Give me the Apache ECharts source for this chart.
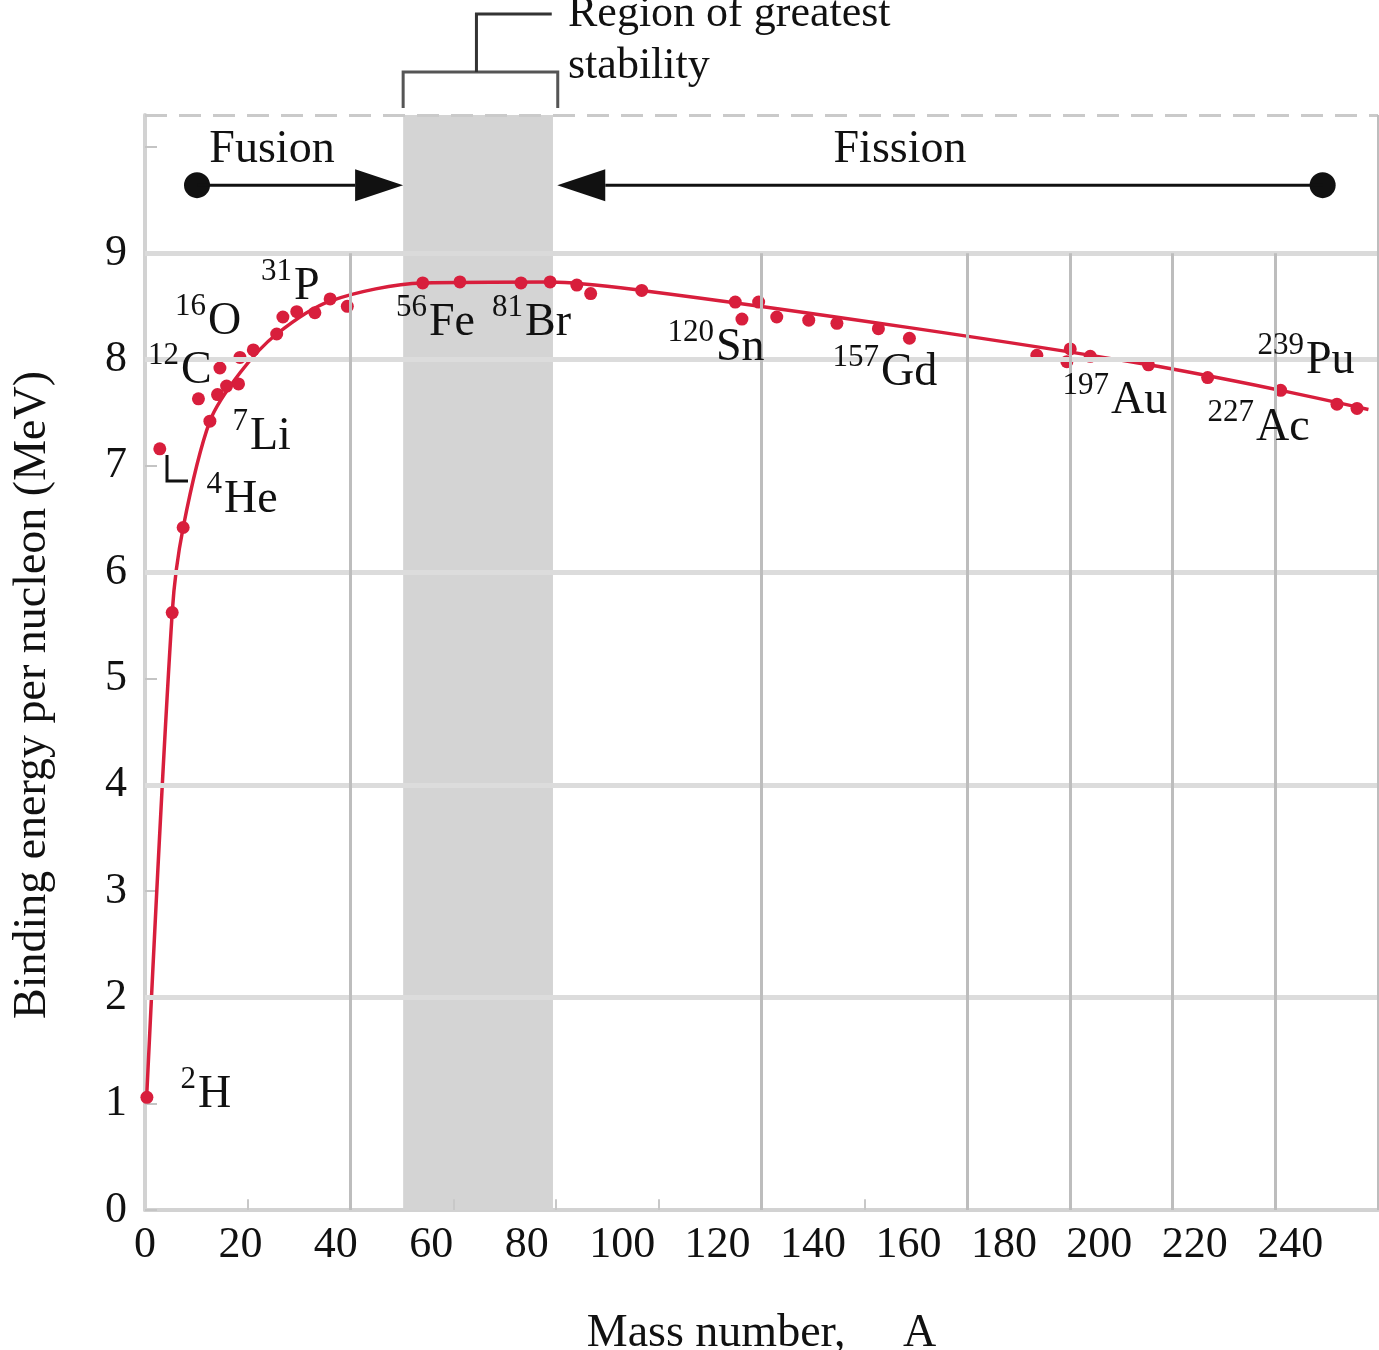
<!DOCTYPE html>
<html><head><meta charset="utf-8">
<script src="https://cdn.jsdelivr.net/npm/echarts@6/dist/echarts.min.js"></script>
<style>html,body{margin:0;padding:0;background:#fff;overflow:hidden}#c{width:1379px;height:1350px}</style>
</head><body><div id="c"></div>
<script>
// ---------- data ----------
const massNumber = [0.4,3.1,5.7,8.0,11.2,13.6,15.2,15.7,17.1,19.6,19.9,22.7,27.6,28.9,31.8,35.6,38.8,42.4,58.2,66.0,78.8,84.9,90.5,93.4,104.1,123.7,125.1,128.6,132.4,139.1,145.0,153.7,160.2,186.9,193.2,193.9,198.1,210.3,222.7,238.0,249.8,254.0];
const bindingEnergy = [1.06,7.16,5.62,6.42,7.63,7.42,7.67,7.92,7.75,7.77,8.02,8.09,8.24,8.40,8.45,8.44,8.57,8.50,8.72,8.73,8.72,8.73,8.70,8.62,8.65,8.54,8.38,8.54,8.40,8.37,8.34,8.29,8.20,8.04,7.98,8.10,8.03,7.95,7.83,7.71,7.58,7.54];
const curveA  = [0.4,5.7,8.0,13.6,20.0,27.6,38.8,58.2,84.9,104.1,160.2,210.3,238.0,256.4];
const curveBE = [1.11,5.62,6.42,7.42,7.88,8.24,8.55,8.72,8.73,8.65,8.30,7.95,7.71,7.53];
const xTickLabels = [0,20,40,60,80,100,120,140,160,180,200,220,240];
const yTickLabels = [0,1,2,3,4,5,6,7,8,9];
const nuclideMass = ['2','4','7','12','16','31','56','81','120','157','197','227','239'];
const nuclideSymbol = ['H','He','Li','C','O','P','Fe','Br','Sn','Gd','Au','Ac','Pu'];
const stableRange = [54.1, 85.5];
const fusionRange = [10.9, 54.1];
const fissionRange = [246.8, 86.4];

// ---------- layout / style ----------
const FONT = "'Liberation Serif','Times New Roman',serif";
const RED = '#d81e3c';
const X_MAX = 258.4, Y_MAX = 10.3;
const labelAnchors = [[197,1095],[223,500],[249,437],[180,371],[207,322],[293,287],[428,323],[524,323],[715,348],[880,373],[1110,401],[1255,428],[1305,361]];
const gridCols = [2,6,8,9,10,11];
const tickCols = [1,3,4,5,7];
const gridRows = [2,4,6,8];

const chart = echarts.init(document.getElementById('c'), null, {renderer:'canvas'});

const scatterData = massNumber.map((a,i)=>[a, bindingEnergy[i]]);
const curveData = curveA.map((a,i)=>[a, curveBE[i]]);

const option = {
  animation:false,
  backgroundColor:'#fff',
  grid:{left:145, right:1, top:115, bottom:140, containLabel:false, outerBoundsMode:'none'},
  xAxis:[{
    type:'value', min:0, max:X_MAX, interval:20,
    axisLine:{show:true, onZero:false, lineStyle:{color:'#d2d2d2', width:4}},
    axisTick:{show:false},
    splitLine:{show:false},
    axisLabel:{
      margin:13, fontFamily:FONT, fontSize:44, color:'#111',
      showMaxLabel:false,
      formatter:v => xTickLabels.indexOf(v) >= 0 ? String(v) : ''
    },
    name:'Mass number,     A', nameLocation:'middle', nameGap:101,
    nameTextStyle:{fontFamily:FONT, fontSize:46, color:'#111'}
  },{
    type:'value', min:0, max:12, show:false, splitLine:{show:false}
  }],
  yAxis:[{
    type:'value', min:0, max:Y_MAX, interval:1,
    axisLine:{show:true, onZero:false, lineStyle:{color:'#d2d2d2', width:4}},
    axisTick:{show:true, inside:true, length:12, lineStyle:{color:'#c4c4c4', width:2}},
    splitLine:{show:false},
    axisLabel:{
      margin:18, fontFamily:FONT, fontSize:44, color:'#111',
      formatter:v => yTickLabels.indexOf(v) >= 0 ? String(v) : ''
    }
  }],
  series:[
    {
      type:'line', data:[], xAxisIndex:0, yAxisIndex:0, silent:true, z:1,
      markArea:{silent:true, itemStyle:{color:'#d4d4d4'},
        data:[[{coord:[stableRange[0],0]},{coord:[stableRange[1],Y_MAX]}]]},
      markLine:{silent:true, symbol:'none', label:{show:false},
        lineStyle:{color:'#dcdcdc', width:5, type:'solid'},
        data: gridRows.map(r=>[{coord:[0,r]},{coord:[X_MAX,r]}]).concat([
          [{coord:[0,9], lineStyle:{color:'#dadada', width:5, type:'solid'}},{coord:[X_MAX,9]}],
          [{coord:[0,Y_MAX], lineStyle:{color:'#cacaca', width:3, type:[22,12]}},{coord:[X_MAX,Y_MAX]}]
        ])}
    },
    {
      type:'line', data:[], xAxisIndex:1, yAxisIndex:0, silent:true, z:2,
      markLine:{silent:true, symbol:'none', label:{show:false},
        lineStyle:{color:'#bdbdbd', width:3, type:'solid'},
        data: gridCols.map(k=>[{coord:[k,0]},{coord:[k,9]}])
          .concat([[{coord:[12,0]},{coord:[12,Y_MAX]}]])
          .concat(tickCols.map(k=>[{coord:[k,0], lineStyle:{color:'#c8c8c8', width:2}},{coord:[k,0.1]}]))
      }
    },
    {
      type:'line', data:curveData, xAxisIndex:0, yAxisIndex:0, z:3,
      smooth:0.3, showSymbol:false, symbol:'none',
      lineStyle:{color:RED, width:3.5}
    },
    {
      type:'scatter', data:scatterData, xAxisIndex:0, yAxisIndex:0, z:4,
      symbol:'circle', symbolSize:13, itemStyle:{color:RED, opacity:1}
    }
  ]
};
chart.setOption(option);

// ---------- annotations ----------
const P = (a,b) => chart.convertToPixel({xAxisIndex:0, yAxisIndex:0}, [a,b]);
const g = [];
const txt = (x,y,s,size,align) => g.push({type:'text', x, y, z:20,
  style:{text:s, font:`${size}px ${FONT}`, fill:'#111', textAlign:align||'left', textVerticalAlign:'middle'}});

nuclideSymbol.forEach((sym,i)=>{
  const [x,y] = labelAnchors[i];
  txt(x-1, y-15, nuclideMass[i], 31, 'right');
  txt(x+1, y, sym, 46, 'left');
});
g.push({type:'polyline', z:20, shape:{points:[[167,455],[167,481],[188,481]]}, style:{stroke:'#111', lineWidth:3, fill:null}});

const arrowY = 9.64;
function arrow(fromA, toA){
  const [x0,y0] = P(fromA, arrowY), [x1] = P(toA, arrowY);
  const dir = Math.sign(x1-x0), len = 48, half = 16;
  g.push({type:'circle', z:20, shape:{cx:x0, cy:y0, r:13}, style:{fill:'#111'}});
  g.push({type:'line', z:20, shape:{x1:x0, y1:y0, x2:x1-dir*len, y2:y0}, style:{stroke:'#111', lineWidth:3}});
  g.push({type:'polygon', z:20, shape:{points:[[x1,y0],[x1-dir*len,y0-half],[x1-dir*len,y0+half]]}, style:{fill:'#111'}});
}
arrow(fusionRange[0], fusionRange[1]);
arrow(fissionRange[0], fissionRange[1]);
txt(272, 150, 'Fusion', 46, 'center');
txt(900, 150, 'Fission', 46, 'center');

const [bl] = P(stableRange[0], 0), [br] = P(stableRange[1]+1, 0);
const bm = (bl+br)/2 - 4;
g.push({type:'polyline', z:20, shape:{points:[[bl,108],[bl,72],[br,72],[br,108]]}, style:{stroke:'#555', lineWidth:3, fill:null}});
g.push({type:'polyline', z:20, shape:{points:[[bm,72],[bm,14],[br-6,14]]}, style:{stroke:'#333', lineWidth:3, fill:null}});
txt(568, 14, 'Region of greatest', 44, 'left');
txt(568, 66, 'stability', 44, 'left');

g.push({type:'text', z:20, x:33, y:695, rotation:Math.PI/2,
  style:{text:'Binding energy per nucleon (MeV)', font:`46px ${FONT}`, fill:'#111', textAlign:'center', textVerticalAlign:'middle'}});

chart.setOption({graphic:g});
</script>
</body></html>
